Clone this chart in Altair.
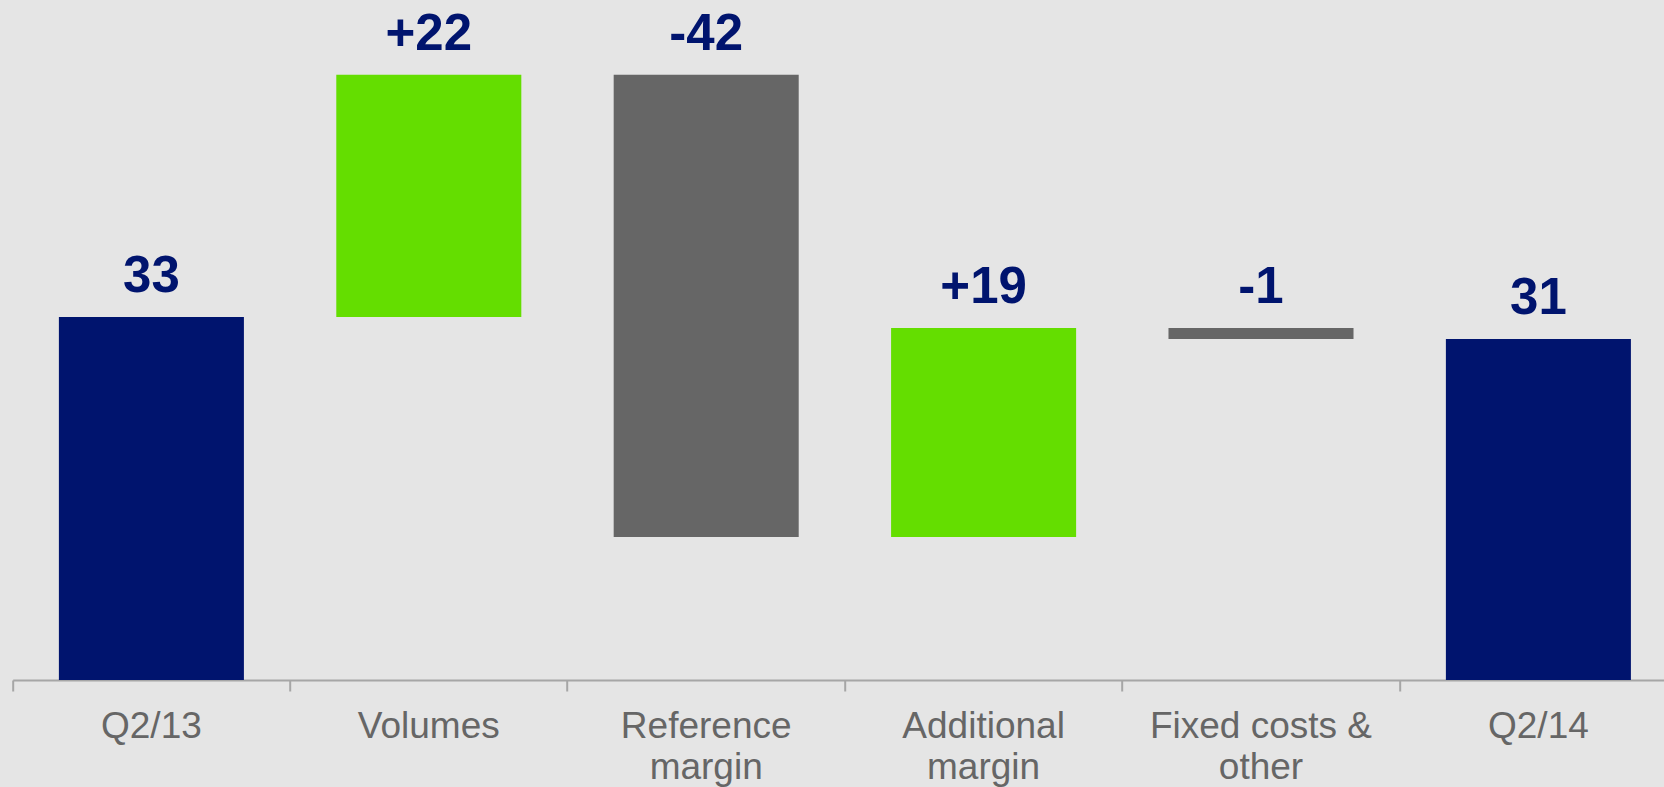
import altair as alt
import pandas as pd

categories = ["Q2/13", "Volumes", "Reference margin", "Additional margin", "Fixed costs & other", "Q2/14"]
label_lines = [["Q2/13"], ["Volumes"], ["Reference", "margin"], ["Additional", "margin"], ["Fixed costs &", "other"], ["Q2/14"]]
changes = [33, 22, -42, 19, -1, 31]
kinds = ["total", "increase", "decrease", "increase", "decrease", "total"]
value_labels = ["33", "+22", "-42", "+19", "-1", "31"]

rows = []
running = 0
for c, d, k, t in zip(categories, changes, kinds, value_labels):
    if k == "total":
        start, end = 0, d
        running = d
    else:
        start, end = running, running + d
        running = end
    rows.append(dict(category=c, start=start, end=end, top=max(start, end), kind=k, label=t))
df = pd.DataFrame(rows)

# build label expression for multi-line axis labels
expr = "datum.label"
for c, lines in reversed(list(zip(categories, label_lines))):
    arr = "[" + ",".join("'" + s + "'" for s in lines) + "]"
    expr = f"datum.label == '{c}' ? {arr} : ({expr})"

NAVY = "#00146E"
GREEN = "#64DE00"
GRAY = "#666666"

x = alt.X(
    "category:N",
    sort=categories,
    scale=alt.Scale(range=[0, 1664.4], paddingInner=0, paddingOuter=0),
    axis=alt.Axis(
        title=None,
        bandPosition=0,
        tickSize=11,
        tickWidth=2,
        tickColor="#A6A6A6",
        domainColor="#A6A6A6",
        domainWidth=2,
        labelFontSize=37,
        labelColor="#666666",
        labelFont="Liberation Sans",
        labelPadding=17,
        labelLineHeight=41,
        labelLimit=400,
        labelAngle=0,
        labelExpr=expr,
        grid=False,
    ),
)
yscale = alt.Scale(domain=[0, 61.8], nice=False, zero=True)

bars = alt.Chart(df).mark_bar(width=alt.RelativeBandSize(0.667)).encode(
    x=x,
    y=alt.Y("start:Q", scale=yscale, axis=None),
    y2="end:Q",
    color=alt.Color(
        "kind:N",
        scale=alt.Scale(domain=["total", "increase", "decrease"], range=[NAVY, GREEN, GRAY]),
        legend=None,
    ),
)

texts = alt.Chart(df).mark_text(
    font="Liberation Sans",
    fontSize=51,
    fontWeight="bold",
    color=NAVY,
    baseline="alphabetic",
    dy=-25,
).encode(
    x=alt.X("category:N", sort=categories),
    y=alt.Y("top:Q", scale=yscale, axis=None),
    text="label:N",
)

chart = (
    alt.layer(bars, texts)
    .properties(
        width=1651.3,
        height=680,
        background="#E5E5E5",
        padding={"left": 12.7, "top": 0, "right": 0, "bottom": 107},
        autosize=alt.AutoSizeParams(type="none"),
    )
    .configure_view(stroke=None)
)

chart.save("out.html", embed_options={"renderer": "svg", "actions": False})
